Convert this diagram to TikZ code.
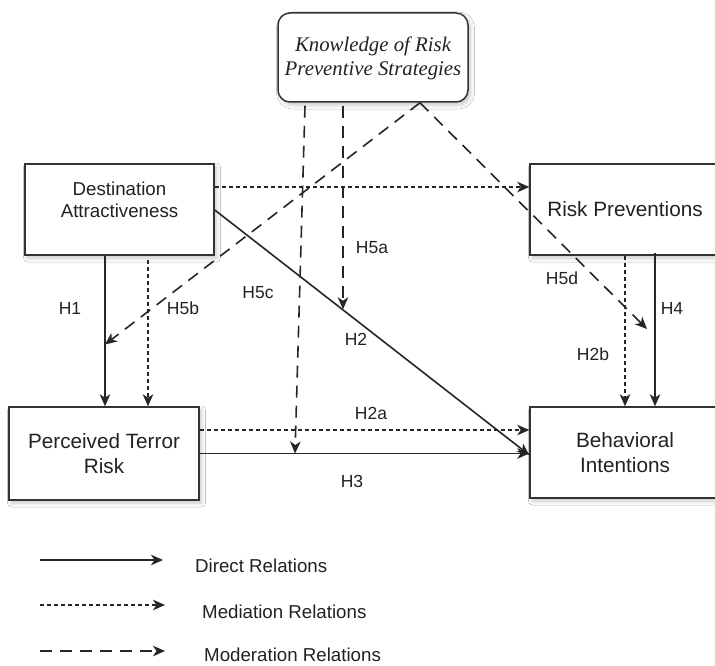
\documentclass[tikz,border=0pt]{standalone}
\usepackage{fontspec}
\setmainfont{Liberation Sans}
\newfontfamily\serifit{Liberation Serif}
\usetikzlibrary{arrows.meta,shadows.blur,calc}
\definecolor{edge}{HTML}{333333}
\definecolor{txt}{HTML}{222222}
\begin{document}
\begin{tikzpicture}[x=1pt,y=-1pt,
  box/.style={draw=edge, line width=1.5pt, fill=white, inner sep=0pt,
    blur shadow={shadow xshift=2.5pt, shadow yshift=-3pt, shadow blur radius=4pt, shadow opacity=22}},
  bigtxt/.style={text=txt, align=center, font=\fontsize{20.7}{24.5}\selectfont},
  datxt/.style={text=txt, align=center, font=\fontsize{18.7}{22}\selectfont},
  lbl/.style={text=txt, font=\fontsize{17.5}{20}\selectfont, inner sep=0pt},
  legtxt/.style={text=txt, font=\fontsize{18.7}{22}\selectfont, inner sep=0pt, anchor=west},
  tip/.style={-{Stealth[length=12pt,width=10.5pt,inset=3.5pt]}},
  direct/.style={tip, line width=1.6pt, draw=black!85},
  mediation/.style={tip, line width=1.6pt, draw=black!85, dash pattern=on 4pt off 3pt},
  moderation/.style={tip, line width=1.6pt, draw=black!85, dash pattern=on 12pt off 8pt},
]
\useasboundingbox (0,0) rectangle (715,666);
\fill[white] (0,0) rectangle (715,666);

% boxes
\node[box, rounded corners=12pt, minimum width=190pt, minimum height=89pt] (K) at (373,57.5) {};
\node[text=txt, align=center, font=\serifit\itshape\fontsize{20.8}{24}\selectfont] (Ktxt) at (373,58) {Knowledge of Risk\\Preventive Strategies};

\node[box, minimum width=189pt, minimum height=91pt] (DA) at (119.5,209.5) {};
\node[datxt] (DAtxt) at (119.5,199.5) {Destination\\Attractiveness};

\node[box, minimum width=190pt, minimum height=91pt, bigtxt] (RP) at (625,209.5) {Risk Preventions};

\node[box, minimum width=190pt, minimum height=93pt, bigtxt] (PTR) at (104,453.5) {Perceived Terror\\Risk};

\node[box, minimum width=190pt, minimum height=91pt, bigtxt] (BI) at (625,452.5) {Behavioral\\Intentions};

% helper points
\coordinate (h1s) at ([xshift=-14.5pt]DA.south);
\coordinate (h1e) at ([xshift=1pt]PTR.north);
\coordinate (h5bs) at ([xshift=28.5pt,yshift=-4pt]DA.south);
\coordinate (h5be) at ([xshift=44pt]PTR.north);
\coordinate (h2s) at ([yshift=-0.5pt]DA.east);
\coordinate (h2e) at ([yshift=-2.5pt]BI.west);
\coordinate (h2p) at ($(h2s)!0.405!(h2e)$);
\coordinate (rps) at ([yshift=22.5pt]DA.east);
\coordinate (h2as) at ([yshift=23.5pt]PTR.east);
\coordinate (h2bs) at (RP.south);
\coordinate (h2be) at (BI.north);
\coordinate (h4s) at ([xshift=30pt,yshift=3pt]RP.south);
\coordinate (h4e) at ([xshift=30pt]BI.north);
\coordinate (apex) at ([xshift=47pt]K.south);
\coordinate (h5as) at ([xshift=-30pt,yshift=-3pt]K.south);
\coordinate (h5cs) at ([xshift=-68pt,yshift=-3pt]K.south);
\coordinate (h5ce) at (295,453.5);
\coordinate (h5be2) at ($(h1s)!0.59!(h1e)$);
\coordinate (h5de) at (647,329);

% direct relations
\draw[direct] (h1s) -- (h1e);
\draw[direct] (h2s) -- (h2e);
\draw[direct] (PTR.east) -- (PTR.east -| BI.west);
\draw[direct] (h4s) -- (h4e);

% mediation relations
\draw[mediation] (h5bs) -- (h5be);
\draw[mediation] (rps) -- (rps -| RP.west);
\draw[mediation] (h2as) -- (h2as -| BI.west);
\draw[mediation] (h2bs) -- (h2be);

% moderation relations
\draw[moderation] (apex) -- (h5be2);
\draw[moderation] (apex) -- (h5de);
\draw[moderation] (h5as) -- (h5as |- h2p);
\draw[moderation] (h5cs) -- (h5ce);

% labels
\node[lbl] (lH1) at (70,308) {H1};
\node[lbl] (lH5b) at (183,308) {H5b};
\node[lbl] (lH5c) at (258,293) {H5c};
\node[lbl] (lH5a) at (372,248) {H5a};
\node[lbl] (lH2) at (356,339) {H2};
\node[lbl] (lH2a) at (371,413) {H2a};
\node[lbl] (lH3) at (352,481) {H3};
\node[lbl] (lH5d) at (562,278) {H5d};
\node[lbl] (lH2b) at (593,354) {H2b};
\node[lbl] (lH4) at (672,308) {H4};

% legend
\coordinate (la1) at (40,560);
\coordinate (lb1) at (163,560);
\coordinate (la2) at (40,605);
\coordinate (lb2) at (165,605);
\coordinate (la3) at (40,651);
\coordinate (lb3) at (165,651);
\draw[direct] (la1) -- (lb1);
\draw[mediation] (la2) -- (lb2);
\draw[moderation] (la3) -- (lb3);
\node[legtxt] (leg1) at (195,566) {Direct Relations};
\node[legtxt] (leg2) at (202,612) {Mediation Relations};
\node[legtxt] (leg3) at (204,655) {Moderation Relations};
\end{tikzpicture}
\end{document}
